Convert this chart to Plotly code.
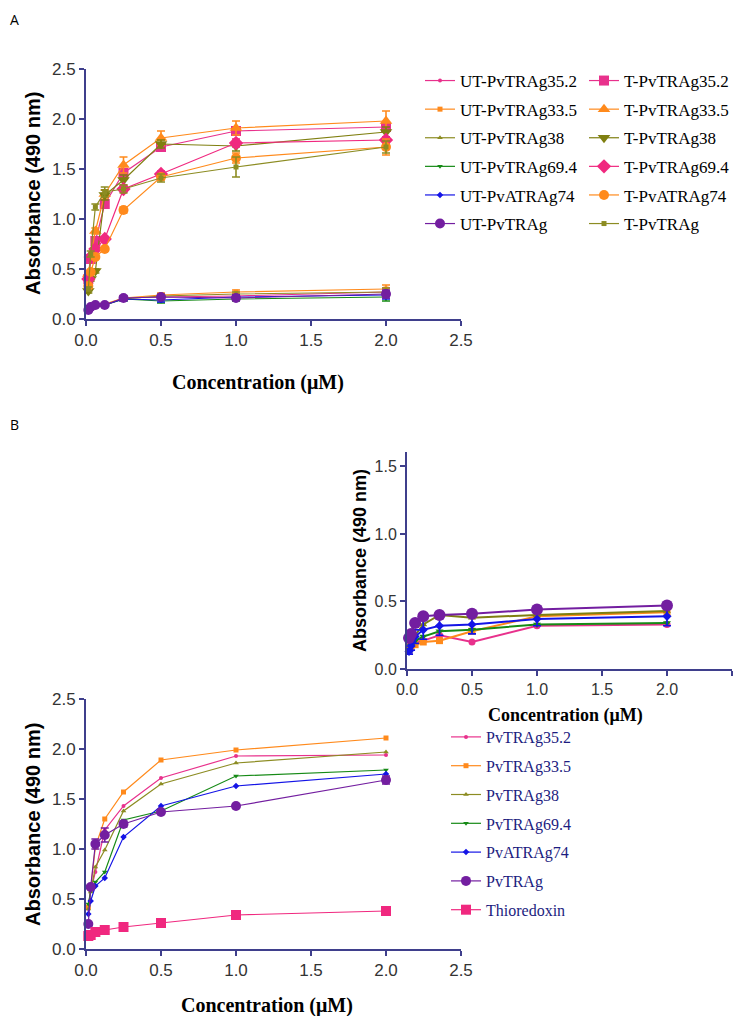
import plotly.graph_objects as go

# the page body adds an 8px margin, so the figure is drawn 8px smaller
OFF = 8
W, H = 742 - OFF, 1016 - OFF

# concentrations (uM), two-fold dilutions
conc = [0.015625, 0.03125, 0.0625, 0.125, 0.25, 0.5, 1.0, 2.0]

# ---- panel A : untreated (UT) ----
a_ut_35_2 = [0.10, 0.12, 0.14, 0.14, 0.21, 0.22, 0.23, 0.27]
a_ut_33_5 = [0.10, 0.12, 0.14, 0.15, 0.21, 0.24, 0.27, 0.30]
a_ut_38 = [0.10, 0.12, 0.14, 0.14, 0.20, 0.23, 0.25, 0.27]
a_ut_69_4 = [0.09, 0.12, 0.14, 0.14, 0.20, 0.18, 0.20, 0.22]
a_ut_74 = [0.09, 0.12, 0.14, 0.14, 0.20, 0.19, 0.22, 0.24]
a_ut_pvtrag = [0.09, 0.12, 0.14, 0.14, 0.21, 0.22, 0.21, 0.25]
a_ut_err = [0.01, 0.01, 0.01, 0.01, 0.02, 0.02, 0.02, 0.04]

# ---- panel A : treated (T) ----
a_t_35_2 = [0.40, 0.60, 0.78, 1.15, 1.46, 1.72, 1.88, 1.92]
a_t_33_5 = [0.45, 0.62, 0.88, 1.25, 1.54, 1.81, 1.91, 1.98]
a_t_38 = [0.28, 0.40, 0.48, 1.24, 1.39, 1.75, 1.73, 1.87]
a_t_69_4 = [0.40, 0.62, 0.70, 0.80, 1.30, 1.45, 1.76, 1.79]
a_t_74 = [0.33, 0.47, 0.62, 0.70, 1.09, 1.42, 1.61, 1.72]
a_t_pvtrag = [0.30, 0.65, 1.12, 1.27, 1.30, 1.41, 1.52, 1.72]
a_t_35_2_err = [0.02, 0.02, 0.03, 0.03, 0.04, 0.03, 0.03, 0.04]
a_t_33_5_err = [0.02, 0.02, 0.03, 0.04, 0.08, 0.07, 0.07, 0.10]
a_t_38_err = [0.02, 0.02, 0.02, 0.05, 0.05, 0.04, 0.05, 0.05]
a_t_69_4_err = [0.02, 0.02, 0.02, 0.02, 0.03, 0.03, 0.04, 0.03]
a_t_74_err = [0.02, 0.02, 0.02, 0.02, 0.03, 0.03, 0.05, 0.08]
a_t_pvtrag_err = [0.02, 0.03, 0.03, 0.05, 0.04, 0.04, 0.10, 0.06]

# ---- panel B : main ----
b_35_2 = [0.40, 0.58, 0.77, 1.19, 1.43, 1.71, 1.93, 1.94]
b_33_5 = [0.42, 0.60, 1.02, 1.30, 1.57, 1.89, 1.99, 2.11]
b_38 = [0.40, 0.57, 0.82, 0.99, 1.38, 1.65, 1.86, 1.97]
b_69_4 = [0.45, 0.58, 0.67, 0.77, 1.29, 1.38, 1.73, 1.79]
b_74 = [0.35, 0.48, 0.63, 0.71, 1.12, 1.43, 1.63, 1.75]
b_pvtrag = [0.25, 0.62, 1.05, 1.14, 1.25, 1.37, 1.43, 1.69]
b_pvtrag_err = [0.01, 0.02, 0.05, 0.07, 0.03, 0.02, 0.02, 0.04]
b_thioredoxin = [0.13, 0.14, 0.17, 0.19, 0.22, 0.26, 0.34, 0.38]

# ---- panel B : inset ----
i_35_2 = [0.15, 0.18, 0.20, 0.21, 0.25, 0.20, 0.32, 0.33]
i_33_5 = [0.14, 0.17, 0.18, 0.20, 0.21, 0.28, 0.39, 0.42]
i_38 = [0.15, 0.19, 0.25, 0.33, 0.40, 0.38, 0.40, 0.43]
i_69_4 = [0.13, 0.17, 0.21, 0.24, 0.28, 0.29, 0.33, 0.34]
i_74 = [0.13, 0.17, 0.24, 0.29, 0.32, 0.33, 0.37, 0.39]
i_74_err = [0.02, 0.03, 0.05, 0.07, 0.07, 0.07, 0.05, 0.07]
i_pvtrag = [0.23, 0.26, 0.34, 0.39, 0.40, 0.41, 0.44, 0.47]

MAGENTA = "#e8318c"
PINK = "#f0287f"
ORANGE = "#ff8a1c"
OLIVE = "#7f7f10"
OLIVE2 = "#8c8c22"
GREEN = "#168a16"
BLUE = "#1414e6"
PURPLE = "#731ea0"
AXIS = "#3f3f8c"

SANS = "Liberation Sans"
SERIF = "Liberation Serif"


# positions below are page pixels of the 742x1016 picture
def px_x(p):
    return (p - OFF) / W


def px_y(p):
    return 1 - (p - OFF) / H


fig = go.Figure()


def add(y, name, color, symbol, size, xa, ya, legend=None, err=None, lw=1.2):
    fig.add_trace(
        go.Scatter(
            x=conc,
            y=y,
            name=name,
            mode="lines+markers",
            line=dict(color=color, width=lw),
            marker=dict(color=color, symbol=symbol, size=size),
            error_y=None if err is None else dict(
                type="data", array=err, color=color, thickness=1.6, width=4
            ),
            xaxis=xa,
            yaxis=ya,
            cliponaxis=False,
            showlegend=legend is not None,
            legend=legend if legend else "legend",
            legendgroup=name,
        )
    )


# panel A
add(a_ut_35_2, "UT-PvTRAg35.2", MAGENTA, "circle", 4, "x", "y", "legend", a_ut_err)
add(a_ut_33_5, "UT-PvTRAg33.5", ORANGE, "square", 5, "x", "y", "legend", a_ut_err)
add(a_ut_38, "UT-PvTRAg38", OLIVE2, "triangle-up", 5, "x", "y", "legend", a_ut_err)
add(a_ut_69_4, "UT-PvTRAg69.4", GREEN, "triangle-down", 5, "x", "y", "legend", a_ut_err)
add(a_ut_74, "UT-PvATRAg74", BLUE, "diamond", 5, "x", "y", "legend", a_ut_err)
add(a_ut_pvtrag, "UT-PvTRAg", PURPLE, "circle", 10, "x", "y", "legend", a_ut_err)

add(a_t_35_2, "T-PvTRAg35.2", MAGENTA, "square", 10, "x", "y", "legend2", a_t_35_2_err)
add(a_t_33_5, "T-PvTRAg33.5", ORANGE, "triangle-up", 11, "x", "y", "legend2", a_t_33_5_err)
add(a_t_38, "T-PvTRAg38", OLIVE, "triangle-down", 11, "x", "y", "legend2", a_t_38_err)
add(a_t_69_4, "T-PvTRAg69.4", PINK, "diamond", 11, "x", "y", "legend2", a_t_69_4_err)
add(a_t_74, "T-PvATRAg74", ORANGE, "circle", 10, "x", "y", "legend2", a_t_74_err)
add(a_t_pvtrag, "T-PvTRAg", OLIVE2, "square", 5, "x", "y", "legend2", a_t_pvtrag_err)

# panel B inset
add(i_35_2, "i35.2", MAGENTA, "circle", 7, "x2", "y2", lw=2)
add(i_33_5, "i33.5", ORANGE, "square", 7, "x2", "y2", lw=2)
add(i_38, "i38", OLIVE, "triangle-up", 7, "x2", "y2", lw=2)
add(i_69_4, "i69.4", GREEN, "triangle-down", 7, "x2", "y2", lw=2)
add(i_74, "i74", BLUE, "diamond", 7, "x2", "y2", err=i_74_err, lw=2)
add(i_pvtrag, "iPvTRAg", PURPLE, "circle", 12, "x2", "y2", lw=2)

# panel B main
add(b_35_2, "PvTRAg35.2", MAGENTA, "circle", 4, "x3", "y3", "legend3")
add(b_33_5, "PvTRAg33.5", ORANGE, "square", 5, "x3", "y3", "legend3")
add(b_38, "PvTRAg38", OLIVE2, "triangle-up", 5, "x3", "y3", "legend3")
add(b_69_4, "PvTRAg69.4", GREEN, "triangle-down", 5, "x3", "y3", "legend3")
add(b_74, "PvATRAg74", BLUE, "diamond", 5, "x3", "y3", "legend3")
add(b_pvtrag, "PvTRAg", PURPLE, "circle", 10, "x3", "y3", "legend3", b_pvtrag_err)
add(b_thioredoxin, "Thioredoxin", PINK, "square", 10, "x3", "y3", "legend3")


def axis(domain, rng, size, anchor):
    return dict(
        domain=domain,
        range=rng,
        dtick=0.5,
        tick0=0,
        tickformat=".1f",
        anchor=anchor,
        automargin=False,
        showgrid=False,
        zeroline=False,
        showline=True,
        linecolor=AXIS,
        linewidth=2,
        ticks="outside",
        ticklen=5,
        tickwidth=2,
        tickcolor=AXIS,
        tickfont=dict(family=SANS, size=size, color="#333333"),
    )


xa_dom = [px_x(86), px_x(461)]
fig.update_layout(
    width=W,
    height=H,
    margin=dict(l=0, r=0, t=0, b=0),
    plot_bgcolor="white",
    paper_bgcolor="white",
    xaxis=axis(xa_dom, [0, 2.5], 17, "y"),
    yaxis=axis([px_y(319), px_y(69)], [0, 2.5], 17, "x"),
    xaxis2=axis([px_x(407), px_x(732)], [0, 2.5], 16, "y2"),
    yaxis2=axis([px_y(669), px_y(452)], [0, 1.607], 16, "x2"),
    xaxis3=axis(xa_dom, [0, 2.5], 17, "y3"),
    yaxis3=axis([px_y(949), px_y(699)], [0, 2.5], 17, "x3"),
    legend=dict(
        x=px_x(420), y=px_y(63), xanchor="left", yanchor="top",
        font=dict(family=SERIF, size=17, color="black"),
        bgcolor="rgba(0,0,0,0)", tracegroupgap=3.5,
    ),
    legend2=dict(
        x=px_x(584), y=px_y(63), xanchor="left", yanchor="top",
        font=dict(family=SERIF, size=17, color="black"),
        bgcolor="rgba(0,0,0,0)", tracegroupgap=3.5,
    ),
    legend3=dict(
        x=px_x(446), y=px_y(720), xanchor="left", yanchor="top",
        font=dict(family=SERIF, size=16, color="#1c1c80"),
        bgcolor="rgba(0,0,0,0)", tracegroupgap=5,
    ),
)

titles = [
    ("Concentration (\u03bcM)", 258, 382, 0, SERIF, 20),
    ("Absorbance (490 nm)", 33, 194, -90, SANS, 20),
    ("Concentration (\u03bcM)", 565, 715, 0, SERIF, 18),
    ("Absorbance (490 nm)", 360, 561, -90, SANS, 18),
    ("Concentration (\u03bcM)", 267, 1005, 0, SERIF, 20),
    ("Absorbance (490 nm)", 33, 825, -90, SANS, 20),
]
for text, x, y, ang, fam, sz in titles:
    fig.add_annotation(
        text="<b>%s</b>" % text, x=px_x(x), y=px_y(y), xref="paper", yref="paper",
        textangle=ang, showarrow=False, xanchor="center", yanchor="middle",
        font=dict(family=fam, size=sz, color="black"),
    )

# panel letters
fig.add_annotation(
    text="A", x=px_x(OFF), y=1, xref="paper", yref="paper",
    showarrow=False, xanchor="left", yanchor="top",
    font=dict(family="Open Sans", size=14, color="black"),
)
fig.add_annotation(
    text="B", x=px_x(OFF), y=px_y(424), xref="paper", yref="paper",
    showarrow=False, xanchor="left", yanchor="middle",
    font=dict(family="Open Sans", size=14, color="black"),
)

fig.write_html("out.html")
